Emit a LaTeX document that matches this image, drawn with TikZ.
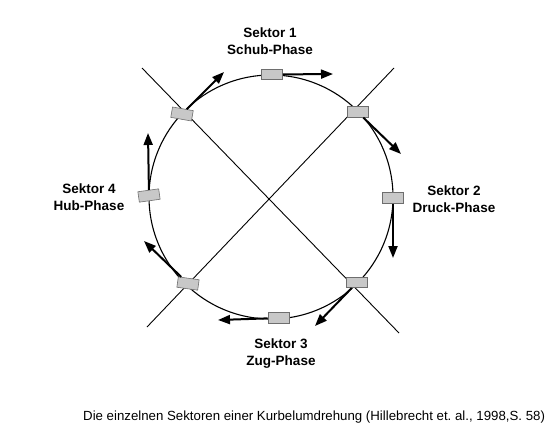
\documentclass[tikz,border=0pt]{standalone}
\usepackage{fontspec}
\setmainfont{Liberation Sans}
\usetikzlibrary{arrows.meta}
\frenchspacing
\definecolor{crank-fill}{RGB}{200, 200, 200}
\definecolor{crank-edge}{RGB}{110, 110, 110}
\tikzset{
    crankbox/.style={draw=crank-edge, fill=crank-fill, line width=0.6pt, minimum width=21pt, minimum height=10.5pt, inner sep=0pt},
    forcearrow/.style={line width=2pt, -{Triangle[length=12pt, width=9pt]}},
    sectorlabel/.style={align=center, font=\fontsize{13.5}{17}\selectfont\bfseries}
}
\begin{document}
\begin{tikzpicture}[x=1pt, y=-1pt]
            \useasboundingbox (0, 0) rectangle (553, 429);
            \coordinate (m) at (271, 197);
            \draw[line width=0.9pt] (142, 68) -- (399, 333);
            \draw[line width=0.9pt] (394, 68) -- (147, 327);
            \draw[line width=1.1pt] (m) circle (122);
            \node[crankbox] (b1) at (272, 74.5) {};
            \node[crankbox] (b12) at (357.5, 112) {};
            \node[crankbox] (b2) at (393, 198) {};
            \node[crankbox] (b23) at (357, 282.5) {};
            \node[crankbox] (b3) at (278.5, 318) {};
            \node[crankbox, rotate=-8] (b34) at (188, 283.5) {};
            \node[crankbox, rotate=8] (b4) at (149, 195.5) {};
            \node[crankbox, rotate=-10] (b41) at (182, 114) {};
            \coordinate (t1) at (333, 74);
            \coordinate (t12) at (401, 154);
            \coordinate (t2) at (393, 258);
            \coordinate (t23) at (315, 326);
            \coordinate (t3) at (218, 320);
            \coordinate (t34) at (144, 241);
            \coordinate (t4) at (148, 133);
            \coordinate (t41) at (224, 72);
            \draw[forcearrow] (b1) -- (t1);
            \draw[forcearrow] (b12) -- (t12);
            \draw[forcearrow] (b2) -- (t2);
            \draw[forcearrow] (b23) -- (t23);
            \draw[forcearrow] (b3) -- (t3);
            \draw[forcearrow] (b34) -- (t34);
            \draw[forcearrow] (b4) -- (t4);
            \draw[forcearrow] (b41) -- (t41);
            \node[sectorlabel] (s1) at (270, 41) {Sektor 1\\Schub-Phase};
            \node[sectorlabel] (s2) at (454, 199) {Sektor 2\\Druck-Phase};
            \node[sectorlabel] (s3) at (281, 354) {Sektor 3\\Zug-Phase};
            \node[sectorlabel] (s4) at (89, 197) {Sektor 4\\Hub-Phase};
            \node[anchor=base west, inner sep=0pt, font=\fontsize{13.25}{15}\selectfont] (cap) at (83, 420) {Die einzelnen Sektoren einer Kurbelumdrehung (Hillebrecht et. al., 1998,S. 58)};
        \end{tikzpicture}
\end{document}
